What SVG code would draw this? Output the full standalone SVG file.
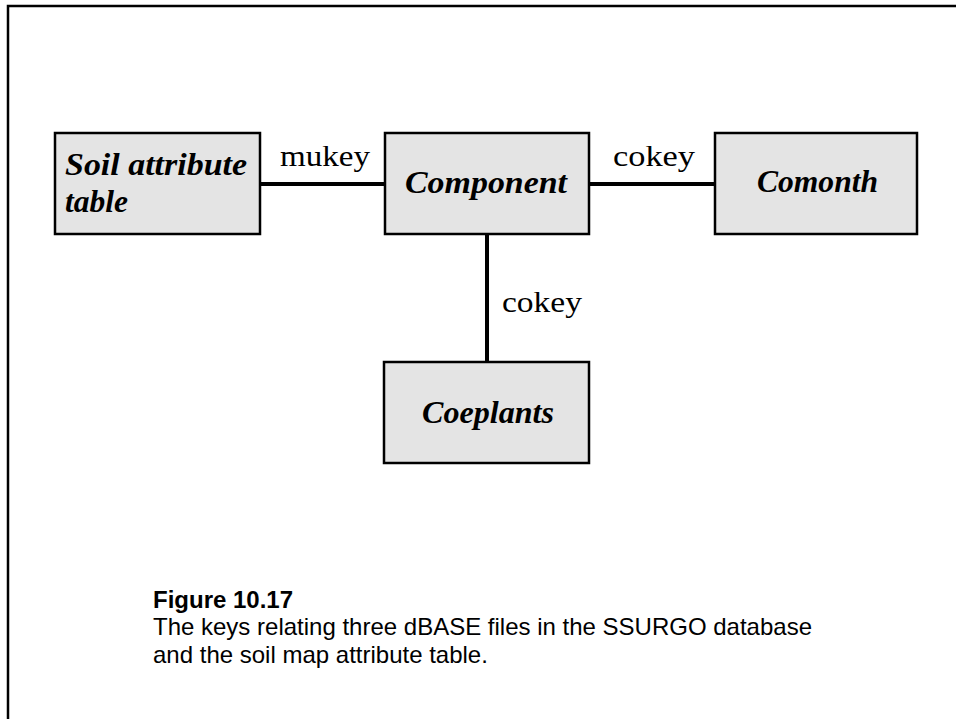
<svg xmlns="http://www.w3.org/2000/svg" width="956" height="719" viewBox="0 0 956 719">
<style>
.box{fill:#e4e4e4;stroke:#000;stroke-width:2.5}
.nt{font-family:"Liberation Serif","Times New Roman",serif;font-weight:bold;font-style:italic;font-size:32px;fill:#000}
.kl{font-family:"Liberation Serif","Times New Roman",serif;font-size:29px;fill:#000}
.conn{stroke:#000;stroke-width:4;fill:none}
.cap{font-family:"Liberation Sans",Arial,sans-serif;font-size:24px;fill:#000}
</style>
<rect x="0" y="0" width="956" height="719" fill="#fff"/>
<path d="M8,719 V6 H956" fill="none" stroke="#000" stroke-width="2.5"/>
<g id="connectors">
<line class="conn" x1="260" y1="184" x2="385" y2="184"/>
<line class="conn" x1="589" y1="184" x2="715" y2="184"/>
<line class="conn" x1="487" y1="234" x2="487" y2="362"/>
<text class="kl" x="280" y="166" textLength="90" lengthAdjust="spacingAndGlyphs">mukey</text>
<text class="kl" x="613" y="166" textLength="82" lengthAdjust="spacingAndGlyphs">cokey</text>
<text class="kl" x="502" y="312" textLength="80" lengthAdjust="spacingAndGlyphs">cokey</text>
</g>
<g id="soil">
<rect class="box" x="55" y="133" width="205" height="101"/>
<text class="nt" x="65" y="175" textLength="182" lengthAdjust="spacingAndGlyphs">Soil attribute</text>
<text class="nt" x="65" y="212" textLength="63" lengthAdjust="spacingAndGlyphs">table</text>
</g>
<g id="component">
<rect class="box" x="385" y="133" width="204" height="101"/>
<text class="nt" x="405" y="193" textLength="162" lengthAdjust="spacingAndGlyphs">Component</text>
</g>
<g id="comonth">
<rect class="box" x="715" y="133" width="202" height="101"/>
<text class="nt" x="757" y="192" textLength="121" lengthAdjust="spacingAndGlyphs">Comonth</text>
</g>
<g id="coeplants">
<rect class="box" x="384" y="362" width="205" height="101"/>
<text class="nt" x="422" y="423" textLength="132" lengthAdjust="spacingAndGlyphs">Coeplants</text>
</g>
<g id="caption">
<text class="cap" x="153" y="608" font-weight="bold">Figure 10.17</text>
<text class="cap" x="153" y="635">The keys relating three dBASE files in the SSURGO database</text>
<text class="cap" x="153" y="663">and the soil map attribute table.</text>
</g>
</svg>
